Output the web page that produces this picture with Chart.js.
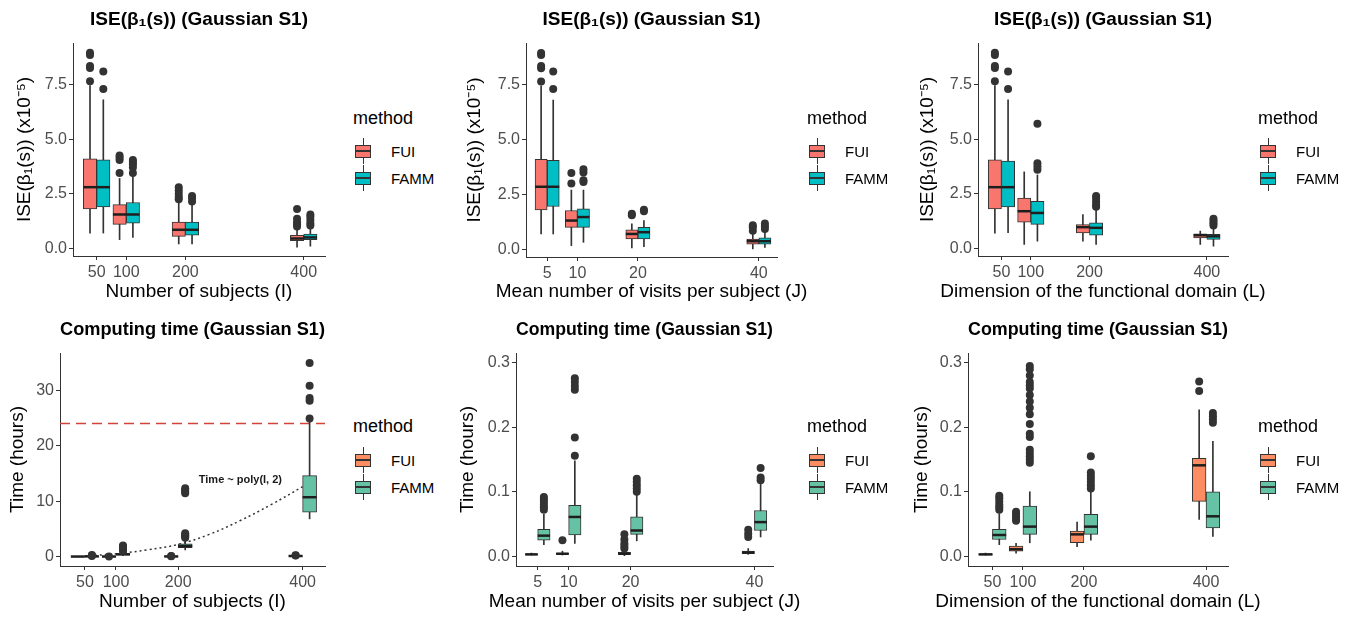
<!DOCTYPE html>
<html lang="en">
<head>
<meta charset="UTF-8">
<title>ISE and computing time (Gaussian S1)</title>
<script src="https://cdn.jsdelivr.net/npm/chart.js"></script>
<style>
  body { margin: 0; background: #fff; width: 1355px; height: 618px; position: relative; overflow: hidden;
         font-family: 'Liberation Sans', Arial, sans-serif; }
  canvas { position: absolute; }
  .lg-title { position: absolute; font-size: 18px; color: #000; white-space: nowrap; transform: translateY(-50%); }
  .lg-text { position: absolute; font-size: 15px; color: #000; white-space: nowrap; transform: translateY(-50%); }
  .key { position: absolute; width: 16px; height: 26px; transform: translateY(-50%); }
  .key .wh { position: absolute; left: 7.5px; top: 0; width: 1px; height: 26px; background: #333; }
  .key .bx { position: absolute; left: 0; top: 6.5px; width: 16px; height: 13px; border: 1px solid #333; box-sizing: border-box; }
  .key .md { position: absolute; left: 0; top: 12px; width: 16px; height: 2px; background: #333; }
</style>
</head>
<body>
<script>
  // x positions
  const xI = [50, 100, 200, 400];
  const xJ = [5, 10, 20, 40];
  const xL = [50, 100, 200, 400];

  // y ticks
  const iseTicks = [0, 2.5, 5, 7.5];
  const iseLabels = ['0.0', '2.5', '5.0', '7.5'];
  const hourTicks = [0, 10, 20, 30];
  const hourLabels = ['0', '10', '20', '30'];
  const smallHourTicks = [0, 0.1, 0.2, 0.3];
  const smallHourLabels = ['0.0', '0.1', '0.2', '0.3'];

  // box stats: [lower whisker, q1, median, q3, upper whisker]
  // ISE (x1e-5) by number of subjects
  const iseI_FUI = [[0.7, 1.8, 2.8, 4.1, 7.45], [0.4, 1.1, 1.55, 2.0, 3.2], [0.2, 0.55, 0.85, 1.2, 2.15], [0.05, 0.35, 0.45, 0.6, 0.95]];
  const iseI_FAMM = [[0.7, 1.9, 2.8, 4.05, 6.8], [0.5, 1.15, 1.55, 2.1, 3.3], [0.2, 0.6, 0.85, 1.2, 2.05], [0.1, 0.4, 0.5, 0.65, 1.0]];
  const iseI_FUI_out = [[7.65, 8.25, 8.35, 8.85, 8.95], [3.45, 4.05, 4.15, 4.25], [2.25, 2.35, 2.5, 2.65, 2.8], [1.0, 1.1, 1.2, 1.35, 1.8]];
  const iseI_FAMM_out = [[7.3, 8.1], [3.45, 3.7, 3.85, 3.95, 4.05], [2.15, 2.3, 2.4], [1.05, 1.15, 1.3, 1.45, 1.55]];

  // ISE by mean number of visits
  const iseJ_FUI = [[0.7, 1.8, 2.85, 4.1, 7.45], [0.17, 1.0, 1.31, 1.77, 2.7], [0.06, 0.47, 0.7, 0.89, 1.16], [0.02, 0.24, 0.37, 0.47, 0.7]];
  const iseJ_FAMM = [[0.7, 1.95, 2.85, 4.05, 6.8], [0.32, 1.0, 1.47, 1.85, 2.7], [0.12, 0.47, 0.78, 1.0, 1.31], [0.09, 0.24, 0.37, 0.52, 0.78]];
  const iseJ_FUI_out = [[7.65, 8.25, 8.35, 8.85, 8.95], [3.0, 3.48], [1.55, 1.62], [0.85, 1.0, 1.1]];
  const iseJ_FAMM_out = [[7.3, 8.1], [3.07, 3.15, 3.5, 3.65], [1.74, 1.8], [0.93, 1.05, 1.18]];

  // ISE by dimension of the functional domain
  const iseL_FUI = [[0.7, 1.8, 2.8, 4.05, 7.45], [0.18, 1.2, 1.7, 2.3, 3.5], [0.33, 0.71, 0.97, 1.09, 1.55], [0.18, 0.48, 0.6, 0.66, 0.79]];
  const iseL_FAMM = [[0.72, 1.9, 2.8, 4.0, 6.8], [0.33, 1.1, 1.62, 2.15, 3.36], [0.18, 0.6, 0.94, 1.17, 1.75], [0.1, 0.41, 0.55, 0.64, 0.94]];
  const iseL_FUI_out = [[7.65, 8.25, 8.35, 8.85, 8.95], [], [], []];
  const iseL_FAMM_out = [[7.3, 8.1], [3.6, 3.75, 3.9, 5.7], [1.9, 2.0, 2.15, 2.3, 2.4], [1.05, 1.15, 1.25, 1.35]];

  // computing time (hours) by number of subjects
  const timeI_FUI = [[0.002, 0.003, 0.004, 0.005, 0.007], [0.005, 0.008, 0.01, 0.012, 0.016], [0.01, 0.02, 0.025, 0.03, 0.04], [0.05, 0.08, 0.1, 0.12, 0.17]];
  const timeI_FAMM = [[0.02, 0.03, 0.035, 0.045, 0.07], [0.15, 0.3, 0.4, 0.55, 0.9], [1.2, 1.6, 1.9, 2.3, 3.2], [6.8, 8.0, 10.7, 14.6, 24.4]];
  const timeI_FUI_out = [[], [0.03], [0.06, 0.1], [0.2, 0.25]];
  const timeI_FAMM_out = [[0.09, 0.2, 0.3], [1.0, 1.2, 1.4, 1.6, 1.8, 2.0], [3.4, 3.6, 3.8, 4.0, 4.2, 11.4, 11.7, 12.0, 12.3], [24.9, 28.1, 28.6, 30.8, 34.9]];

  // computing time by mean number of visits
  const timeJ_FUI = [[0.002, 0.002, 0.003, 0.004, 0.005], [0.002, 0.003, 0.004, 0.005, 0.008], [0.001, 0.003, 0.004, 0.006, 0.009], [0.003, 0.004, 0.006, 0.008, 0.012]];
  const timeJ_FAMM = [[0.018, 0.025, 0.032, 0.042, 0.065], [0.02, 0.033, 0.061, 0.079, 0.148], [0.024, 0.034, 0.04, 0.061, 0.095], [0.03, 0.04, 0.053, 0.071, 0.114]];
  const timeJ_FUI_out = [[], [0.025], [0.012, 0.016, 0.02, 0.026, 0.034], [0.03, 0.035, 0.041]];
  const timeJ_FAMM_out = [[0.072, 0.076, 0.08, 0.084, 0.088, 0.092], [0.156, 0.184, 0.258, 0.264, 0.27, 0.276], [0.1, 0.105, 0.11, 0.115, 0.12], [0.118, 0.122, 0.137]];

  // computing time by dimension of the functional domain
  const timeL_FUI = [[0.002, 0.002, 0.003, 0.004, 0.005], [0.005, 0.008, 0.011, 0.016, 0.02], [0.015, 0.021, 0.034, 0.039, 0.053], [0.057, 0.085, 0.141, 0.152, 0.227]];
  const timeL_FAMM = [[0.018, 0.026, 0.033, 0.042, 0.066], [0.021, 0.034, 0.046, 0.078, 0.1], [0.025, 0.034, 0.046, 0.065, 0.1], [0.031, 0.044, 0.062, 0.1, 0.178]];
  const timeL_FUI_out = [[], [0.055, 0.058, 0.062, 0.066, 0.069], [], [0.256, 0.271]];
  const timeL_FAMM_out = [[0.072, 0.076, 0.08, 0.085, 0.09, 0.094],
    [0.145, 0.15, 0.155, 0.16, 0.165, 0.185, 0.19, 0.205, 0.22, 0.23, 0.24, 0.25, 0.26, 0.265, 0.27, 0.28, 0.29, 0.295],
    [0.105, 0.11, 0.115, 0.12, 0.125, 0.13, 0.155], [0.207, 0.212, 0.217, 0.222]];

  // quadratic trend and 24h limit in the time-vs-I panel
  const polyI = [50, 100, 150, 200, 250, 300, 350, 400];
  const polyTime = [0.1, 0.5, 1.2, 2.2, 4.0, 6.5, 9.4, 12.6];
  const limitHours = 24;

  const redFUI = '#F8766D', tealFAMM = '#00BFC4';
  const orangeFUI = '#FC8D62', greenFAMM = '#66C2A5';
  const dark = '#333333';
  const fontFamily = "'Liberation Sans', Arial, sans-serif";

  Chart.defaults.font.family = fontFamily;

  function boxSets(xs, off, stats, outs, color) {
    const pos = xs.map(x => x + off);
    const half = chart => Math.abs(chart.scales.x.getPixelForValue(Math.abs(off)) - chart.scales.x.getPixelForValue(0));
    const pts = [];
    pos.forEach((x, i) => outs[i].forEach(v => pts.push({ x: x, y: v })));
    return [
      { type: 'bar', data: pos.map((x, i) => ({ x: x, y: [stats[i][0], stats[i][4]] })),
        backgroundColor: dark, barThickness: 1, grouped: false, order: 4 },
      { type: 'bar', data: pos.map((x, i) => ({ x: x, y: [stats[i][1], stats[i][3]] })),
        backgroundColor: color, borderColor: dark, borderWidth: 1, borderSkipped: false,
        grouped: false, categoryPercentage: 1, barPercentage: 1, order: 3 },
      { type: 'scatter', data: pos.map((x, i) => ({ x: x, y: stats[i][2] })),
        pointStyle: 'line', pointRadius: ctx => half(ctx.chart), pointBorderColor: '#1e1e1e', pointBorderWidth: 2.5, order: 2 },
      { type: 'scatter', data: pts, pointRadius: 4, pointBackgroundColor: dark, pointBorderWidth: 0, order: 1 }
    ];
  }

  // x axis title drawn without squeezing, since ggplot lets it run past the panel
  const xTitlePlugin = {
    id: 'xTitle',
    afterDraw(chart, args, opts) {
      const { ctx, chartArea } = chart;
      ctx.save();
      ctx.font = '19px ' + fontFamily;
      ctx.fillStyle = '#000';
      ctx.textAlign = 'center';
      ctx.textBaseline = 'middle';
      ctx.fillText(opts.text, (chartArea.left + chartArea.right) / 2, chart.height - 13);
      ctx.restore();
    }
  };

  function panel(p) {
    const c = document.createElement('canvas');
    c.width = p.w; c.height = p.h;
    c.style.left = p.left + 'px'; c.style.top = p.top + 'px';
    c.style.width = p.w + 'px'; c.style.height = p.h + 'px';
    document.body.appendChild(c);

    const datasets = boxSets(p.xs, -p.off, p.fui, p.fuiOut, p.colors[0])
      .concat(boxSets(p.xs, p.off, p.famm, p.fammOut, p.colors[1]))
      .concat(p.extra || []);

    new Chart(c, {
      type: 'bar',
      data: { datasets: datasets },
      plugins: [xTitlePlugin].concat(p.plugins || []),
      options: {
        responsive: false, animation: false, devicePixelRatio: 1, events: [],
        layout: { padding: { left: 0, right: p.w - p.plotRight, top: 0, bottom: 0 } },
        plugins: {
          legend: { display: false }, tooltip: { enabled: false },
          xTitle: { text: p.xTitle },
          title: { display: true, text: p.title, fullSize: false, color: '#000',
                   font: { size: 19, weight: 'bold' }, padding: { top: 8, bottom: 12.2 } }
        },
        scales: {
          x: {
            type: 'linear', min: p.xmin, max: p.xmax, offset: false,
            afterBuildTicks: s => { s.ticks = p.xs.map(v => ({ value: v })); },
            afterFit: s => { s.height = p.h - p.plotBottom; },
            ticks: { color: '#4d4d4d', font: { size: 16 }, padding: 3, maxRotation: 0, autoSkip: false, callback: v => String(v) },
            grid: { display: true, drawOnChartArea: false, drawTicks: true, tickLength: 4, color: dark, offset: false },
            border: { display: true, color: dark, width: 1 },
            title: { display: false }
          },
          y: {
            type: 'linear', min: p.ymin, max: p.ymax,
            afterBuildTicks: s => { s.ticks = p.yTicks.map(v => ({ value: v })); },
            afterFit: s => { s.width = p.plotLeft; },
            ticks: { color: '#4d4d4d', font: { size: 16 }, padding: 2, autoSkip: false,
                     callback: v => p.yLabels[p.yTicks.indexOf(v)] },
            grid: { display: true, drawOnChartArea: false, drawTicks: true, tickLength: 4, color: dark },
            border: { display: true, color: dark, width: 1 },
            title: { display: true, text: p.yTitle, color: '#000', font: { size: 19 }, padding: { top: p.yTitleX - 11.4, bottom: 0 } }
          }
        }
      }
    });

    // legend
    const lg = p.legend;
    const t = document.createElement('div');
    t.className = 'lg-title'; t.textContent = 'method';
    t.style.left = lg.x + 'px'; t.style.top = lg.y0 + 'px';
    document.body.appendChild(t);
    ['FUI', 'FAMM'].forEach((name, k) => {
      const y = k === 0 ? lg.y1 : lg.y2;
      const key = document.createElement('div');
      key.className = 'key';
      key.style.left = (lg.x + 2) + 'px'; key.style.top = y + 'px';
      key.innerHTML = '<div class="wh"></div><div class="bx" style="background:' + p.colors[k] + '"></div><div class="md"></div>';
      document.body.appendChild(key);
      const tx = document.createElement('div');
      tx.className = 'lg-text'; tx.textContent = name;
      tx.style.left = (lg.x + 38) + 'px'; tx.style.top = y + 'px';
      document.body.appendChild(tx);
    });
  }

  const iseTitle = 'ISE(β₁(s)) (Gaussian S1)';
  const timeTitle = 'Computing time (Gaussian S1)';
  const iseYTitle = 'ISE(β₁(s)) (x10⁻⁵)';
  const row1Legend = x => ({ x: x, y0: 118, y1: 151, y2: 178 });
  const row2Legend = x => ({ x: x, y0: 426, y1: 460, y2: 487 });

  panel({ left: 0, top: 0, w: 345, h: 305, plotLeft: 73, plotRight: 325, plotBottom: 256,
    xs: xI, off: 11.25, xmin: 10, xmax: 436, ymin: -0.35, ymax: 9.4,
    yTicks: iseTicks, yLabels: iseLabels, yTitleX: 25,
    fui: iseI_FUI, famm: iseI_FAMM, fuiOut: iseI_FUI_out, fammOut: iseI_FAMM_out, colors: [redFUI, tealFAMM],
    title: iseTitle, xTitle: 'Number of subjects (I)', yTitle: iseYTitle, legend: row1Legend(353) });

  panel({ left: 440, top: 0, w: 380, h: 305, plotLeft: 86, plotRight: 337, plotBottom: 257,
    xs: xJ, off: 1.0, xmin: 1.5, xmax: 43, ymin: -0.35, ymax: 9.4,
    yTicks: iseTicks, yLabels: iseLabels, yTitleX: 35,
    fui: iseJ_FUI, famm: iseJ_FAMM, fuiOut: iseJ_FUI_out, fammOut: iseJ_FAMM_out, colors: [redFUI, tealFAMM],
    title: iseTitle, xTitle: 'Mean number of visits per subject (J)', yTitle: iseYTitle, legend: row1Legend(807) });

  panel({ left: 900, top: 0, w: 370, h: 305, plotLeft: 78, plotRight: 328, plotBottom: 256,
    xs: xL, off: 11.25, xmin: 10, xmax: 436, ymin: -0.35, ymax: 9.4,
    yTicks: iseTicks, yLabels: iseLabels, yTitleX: 28,
    fui: iseL_FUI, famm: iseL_FAMM, fuiOut: iseL_FUI_out, fammOut: iseL_FAMM_out, colors: [redFUI, tealFAMM],
    title: iseTitle, xTitle: 'Dimension of the functional domain (L)', yTitle: iseYTitle, legend: row1Legend(1258) });

  const noteText = 'Time ~ poly(I, 2)';
  const notePlugin = {
    id: 'note',
    afterDatasetsDraw(chart) {
      const { ctx, scales: { x, y } } = chart;
      ctx.save();
      ctx.font = 'bold 11px ' + fontFamily;
      ctx.fillStyle = '#1a1a1a';
      ctx.textAlign = 'center';
      ctx.textBaseline = 'middle';
      ctx.fillText(noteText, x.getPixelForValue(300), y.getPixelForValue(13.8));
      ctx.restore();
    }
  };

  panel({ left: 0, top: 310, w: 345, h: 305, plotLeft: 60, plotRight: 325, plotBottom: 256,
    xs: xI, off: 11.25, xmin: 10, xmax: 436, ymin: -1.7, ymax: 36.7,
    yTicks: hourTicks, yLabels: hourLabels, yTitleX: 18,
    fui: timeI_FUI, famm: timeI_FAMM, fuiOut: timeI_FUI_out, fammOut: timeI_FAMM_out, colors: [orangeFUI, greenFAMM],
    title: timeTitle, xTitle: 'Number of subjects (I)', yTitle: 'Time (hours)', legend: row2Legend(353),
    plugins: [notePlugin],
    extra: [
      { type: 'line', data: [{ x: 10, y: limitHours }, { x: 436, y: limitHours }], borderColor: '#D2443B',
        borderWidth: 1.5, borderDash: [10, 6], pointRadius: 0, fill: false, order: 6 },
      { type: 'line', data: polyI.map((v, i) => ({ x: v, y: polyTime[i] })), borderColor: '#333',
        borderWidth: 1.5, borderDash: [2, 3], pointRadius: 0, fill: false, tension: 0.4, order: 6 }
    ] });

  panel({ left: 440, top: 310, w: 380, h: 305, plotLeft: 76, plotRight: 333, plotBottom: 256,
    xs: xJ, off: 1.0, xmin: 1.5, xmax: 43, ymin: -0.015, ymax: 0.315,
    yTicks: smallHourTicks, yLabels: smallHourLabels, yTitleX: 28,
    fui: timeJ_FUI, famm: timeJ_FAMM, fuiOut: timeJ_FUI_out, fammOut: timeJ_FAMM_out, colors: [orangeFUI, greenFAMM],
    title: timeTitle, xTitle: 'Mean number of visits per subject (J)', yTitle: 'Time (hours)', legend: row2Legend(807) });

  panel({ left: 900, top: 310, w: 370, h: 305, plotLeft: 68, plotRight: 328, plotBottom: 256,
    xs: xL, off: 11.25, xmin: 10, xmax: 436, ymin: -0.015, ymax: 0.315,
    yTicks: smallHourTicks, yLabels: smallHourLabels, yTitleX: 22,
    fui: timeL_FUI, famm: timeL_FAMM, fuiOut: timeL_FUI_out, fammOut: timeL_FAMM_out, colors: [orangeFUI, greenFAMM],
    title: timeTitle, xTitle: 'Dimension of the functional domain (L)', yTitle: 'Time (hours)', legend: row2Legend(1258) });
</script>
</body>
</html>
